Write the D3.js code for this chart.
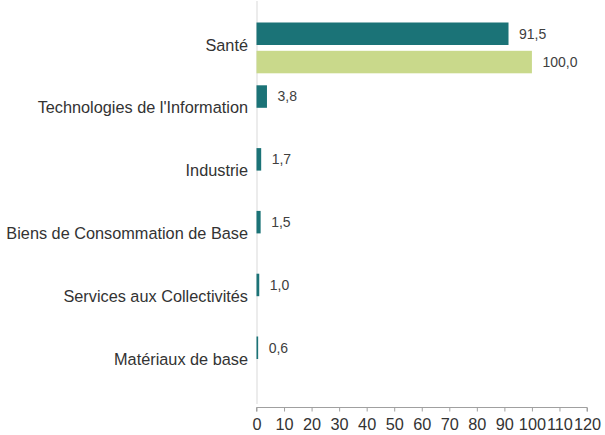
<!DOCTYPE html>
<html>
<head>
<meta charset="utf-8">
<script src="https://cdn.jsdelivr.net/npm/d3@7"></script>
<style>
  html, body { margin: 0; padding: 0; background: #ffffff; }
  svg { display: block; font-family: "Liberation Sans", Arial, sans-serif; }
</style>
</head>
<body>
<svg id="chart" width="605" height="435"></svg>
<script>
const categories = ["Santé", "Technologies de l'Information", "Industrie", "Biens de Consommation de Base", "Services aux Collectivités", "Matériaux de base"];
const seriesKeys = ["s1", "s2"];
const series1 = [91.5, 3.8, 1.7, 1.5, 1.0, 0.6];
const series2 = [100.0, null, null, null, null, null];
const xTicks = [0, 10, 20, 30, 40, 50, 60, 70, 80, 90, 100, 110, 120];
const colors = { s1: "#1b7377", s2: "#c9d98b" };

const svg = d3.select("#chart");
const left = 256.5, right = 587;
const bandTop = 16.5, bandStep = 62.8;

const x = d3.scaleLinear().domain([0, 120]).range([left, right]);
const y = d3.scaleBand().domain(categories).range([bandTop, bandTop + bandStep * categories.length]).padding(0);
const ySub = d3.scaleBand().domain(seriesKeys).range([6, bandStep - 6]).paddingInner(0.205).paddingOuter(0);

const fr = d3.formatLocale({ decimal: ",", thousands: " ", grouping: [3], currency: ["", " €"] });
const fmt = fr.format(".1f");

const rows = [];
categories.forEach((c, i) => {
  rows.push({ cat: c, key: "s1", v: series1[i] });
  if (series2[i] != null) rows.push({ cat: c, key: "s2", v: series2[i] });
});

// vertical category axis line
svg.append("line")
  .attr("x1", x(0) + 0.5).attr("x2", x(0) + 0.5)
  .attr("y1", 1).attr("y2", 404)
  .attr("stroke", "#d9d9d9").attr("stroke-width", 1);

// bars
svg.append("g").selectAll("rect").data(rows).join("rect")
  .attr("x", x(0))
  .attr("y", d => y(d.cat) + ySub(d.key))
  .attr("width", d => x(d.v) - x(0))
  .attr("height", ySub.bandwidth())
  .attr("fill", d => colors[d.key]);

// value labels
svg.append("g").selectAll("text").data(rows).join("text")
  .attr("x", d => x(d.v) + 10.5)
  .attr("y", d => y(d.cat) + ySub(d.key) + ySub.bandwidth() / 2)
  .attr("dy", "0.35em")
  .attr("font-size", "14px")
  .attr("fill", "#404040")
  .text(d => fmt(d.v));

// category labels
svg.append("g").selectAll("text").data(categories).join("text")
  .attr("x", 248)
  .attr("y", d => y(d) + y.bandwidth() / 2 - 3)
  .attr("dy", "0.35em")
  .attr("text-anchor", "end")
  .attr("font-size", "16.3px")
  .attr("fill", "#333333")
  .text(d => d);

// x axis
const xAxis = d3.axisBottom(x).tickValues(xTicks).tickSize(4).tickPadding(7).tickFormat(d3.format("d"));
const gx = svg.append("g").attr("transform", "translate(0,407.5)").call(xAxis);
gx.select(".domain").attr("stroke", "#a0a0a0").attr("d", `M${left},4V0H${right}V4`);
gx.selectAll(".tick line").attr("stroke", "#a0a0a0");
gx.selectAll(".tick text").attr("font-size", "16.3px").attr("fill", "#333333")
  .attr("font-family", "'Liberation Sans', Arial, sans-serif");
</script>
</body>
</html>
